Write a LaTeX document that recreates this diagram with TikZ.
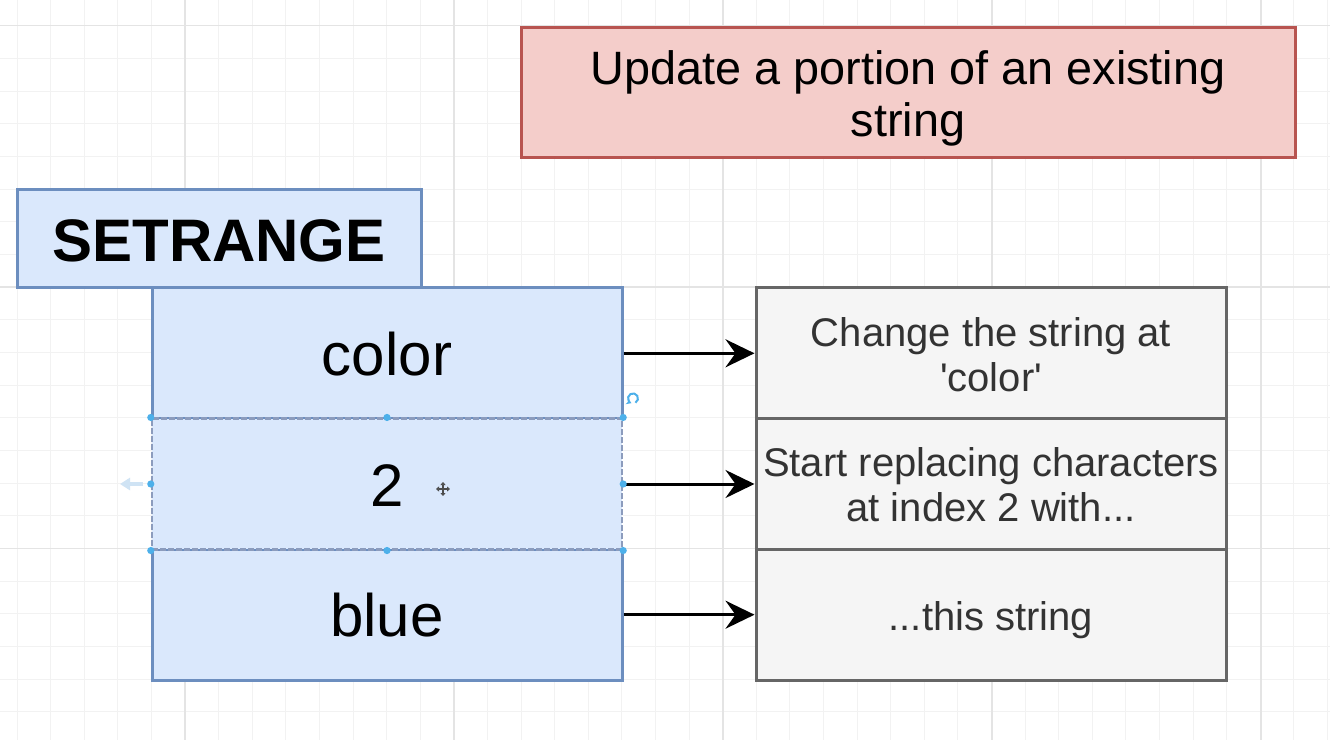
\documentclass[tikz,border=0pt]{standalone}
\usepackage{fontspec}
\setmainfont{Liberation Sans}[Ligatures=TeXOff]
\usetikzlibrary{arrows.meta,calc}
\definecolor{gridminor}{HTML}{F2F2F2}
\definecolor{gridmajor}{HTML}{E4E4E4}
\definecolor{bluefill}{HTML}{DAE8FC}
\definecolor{bluedraw}{HTML}{6C8EBF}
\definecolor{redfill}{HTML}{F4CDCA}
\definecolor{reddraw}{HTML}{B85450}
\definecolor{greyfill}{HTML}{F5F5F5}
\definecolor{greydraw}{HTML}{666666}
\definecolor{greytext}{HTML}{333333}
\definecolor{handlecol}{HTML}{4DB0EA}
\definecolor{selcol}{HTML}{8C9CBD}
\definecolor{faintblue}{HTML}{CFE3F4}
\begin{document}
\begin{tikzpicture}[x=0.5pt,y=-0.5pt,
  bluebox/.style={draw=bluedraw, fill=bluefill, line width=1.5pt, inner sep=0pt},
  redbox/.style={draw=reddraw, fill=redfill, line width=1.5pt, inner sep=0pt},
  greybox/.style={draw=greydraw, fill=greyfill, line width=1.5pt, inner sep=0pt,
     minimum width=235pt, minimum height=65.33pt},
  rowbox/.style={bluebox, minimum width=235pt, minimum height=65.33pt},
  titletext/.style={anchor=base, inner sep=0pt, text=black, font=\fontsize{23.4}{26}\selectfont},
  bigtext/.style={anchor=base, inner sep=0pt, text=black, font=\fontsize{30}{34}\selectfont},
  desctext/.style={anchor=base, inner sep=0pt, text=greytext, font=\fontsize{20}{22.5}\selectfont},
  arr/.style={line width=1.5pt, -{Stealth[length=14.5pt, width=14pt, inset=5pt]}},
  handledot/.style={fill=handlecol, circle, inner sep=0pt, minimum size=3.6pt}
]
\fill[white] (0,0) rectangle (1330,740);
\useasboundingbox (0,0) rectangle (1330,740);
% grid
\foreach \i in {0,...,39} \draw[gridminor, line width=0.5pt] ({17+33.6*\i},0) -- ({17+33.6*\i},740);
\foreach \j in {0,...,22} \draw[gridminor, line width=0.5pt] (0,{25.7+32.67*\j}) -- (1330,{25.7+32.67*\j});
\foreach \x in {185,454,723,992,1261} \draw[gridmajor, line width=0.6pt] (\x,0) -- (\x,740);
\foreach \y in {25.7,287,548.3} \draw[gridmajor, line width=0.6pt] (0,\y) -- (1330,\y);

% title
\node[redbox, minimum width=387pt, minimum height=65pt] (title) at (908,92) {};
\node[titletext] (title-a) at (908,84.3) {Update a portion of an existing};
\node[titletext] (title-b) at (908,136.3) {string};

% stack rows
\node[rowbox] (c1) at (387,353.3) {};
\node[rowbox] (c3) at (387,614.7) {};
\node[rowbox, draw=selcol, line width=1.2pt, dash pattern=on 3pt off 1pt] (c2) at (387,484) {};
\node[bigtext] (c1t) at (387,375) {color};
\node[bigtext] (c2t) at (387,506) {2};
\node[bigtext] (c3t) at (387,636) {blue};

% SETRANGE
\node[bluebox, minimum width=202pt, minimum height=49pt] (head) at (219,238) {};
\node[bigtext, font=\bfseries\fontsize{30}{34}\selectfont] (headt) at (219,261) {SETRANGE};

% right descriptions
\node[greybox] (r1) at (991,353.3) {};
\node[greybox] (r2) at (991,484) {};
\node[greybox] (r3) at (991,614.7) {};
\node[desctext] (r1a) at (991,346) {Change the string at};
\node[desctext] (r1b) at (991,391) {'color'};
\node[desctext] (r2a) at (991,476) {Start replacing characters};
\node[desctext] (r2b) at (991,521.5) {at index 2 with...};
\node[desctext] (r3a) at (991,630) {...this string};

% connectors
\draw[arr] (c1.east) -- (r1.west);
\draw[arr] (c2.east) -- (r2.west);
\draw[arr] (c3.east) -- (r3.west);

% selection handles
\foreach \p in {north west, north, north east, west, east, south west, south, south east}
  \node[handledot] (h-\p) at (c2.\p) {};
\coordinate (rotc) at (633,407);
\draw[handlecol, line width=1pt, -{Stealth[length=2.5pt,width=3pt]}] ($(rotc)+(2.5,-4.3)$) arc[start angle=60, end angle=-250, radius=5];
\coordinate (fa1) at (143,484);
\coordinate (fa2) at (120,484);
\draw[faintblue, line width=2pt, -{Triangle[length=5pt,width=6pt]}] (fa1) -- (fa2);
\coordinate (cur) at (443,489);
\draw[black!70, line width=0.8pt, {Triangle[length=1.5pt,width=2.5pt]}-{Triangle[length=1.5pt,width=2.5pt]}] ($(cur)+(-7,0)$) -- ($(cur)+(7,0)$);
\draw[black!70, line width=0.8pt, {Triangle[length=1.5pt,width=2.5pt]}-{Triangle[length=1.5pt,width=2.5pt]}] ($(cur)+(0,-7)$) -- ($(cur)+(0,7)$);
\end{tikzpicture}
\end{document}
